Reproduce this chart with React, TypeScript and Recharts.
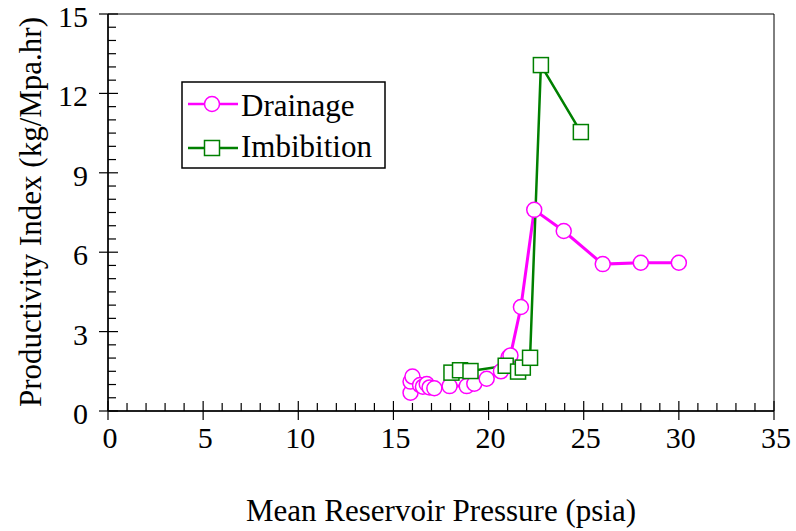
import React from 'react';
import {
  LineChart,
  Line,
  XAxis,
  YAxis,
  ReferenceArea,
  Label,
} from 'recharts';

// values
const drainagePressure = [
  15.9, 15.9, 16.0, 16.4, 16.55, 16.75, 16.9, 17.15, 17.95, 18.85, 19.25,
  19.9, 20.65, 21.05, 21.15, 21.7, 22.4, 23.95, 26.0, 28.0, 30.0,
];
const drainageIndex = [
  0.69, 1.11, 1.3, 0.98, 0.92, 1.02, 0.89, 0.86, 0.94, 0.94, 1.03,
  1.22, 1.5, 2.03, 2.1, 3.93, 7.6, 6.8, 5.55, 5.6, 5.6,
];
const imbibitionPressure = [18.05, 18.5, 19.05, 20.9, 21.55, 21.8, 22.18, 22.75, 24.85];
const imbibitionIndex = [1.45, 1.54, 1.51, 1.71, 1.49, 1.64, 2.01, 13.07, 10.54];

const xMajorTicks = [0, 5, 10, 15, 20, 25, 30, 35];
const yMajorTicks = [0, 3, 6, 9, 12, 15];
const xMinorStep = 1;
const yMinorStep = 0.5;

const xTicks = Array.from({ length: 35 / xMinorStep + 1 }, (_, i) => i * xMinorStep);
const yTicks = Array.from({ length: 15 / yMinorStep + 1 }, (_, i) => i * yMinorStep);

const drainage = drainagePressure.map((p, i) => ({ p, v: drainageIndex[i] }));
const imbibition = imbibitionPressure.map((p, i) => ({ p, v: imbibitionIndex[i] }));

const FONT = "'Liberation Serif', 'Times New Roman', Times, serif";
const textStyle = { fontFamily: FONT, fontSize: 30, fill: '#000' };
const titleStyle = { ...textStyle, fontSize: 31 };
const MAGENTA = '#FF00FF';
const GREEN = '#008000';

const XTick = (props: any) => {
  const { x, y, payload } = props;
  const major = xMajorTicks.includes(payload.value);
  return (
    <g>
      <line x1={x} x2={x} y1={y - (major ? 10 : 8)} y2={y + (major ? 9 : 0)} stroke="#000" strokeWidth={1.2} />
      {major && (
        <text x={x + 2} y={y + 37} textAnchor="middle" style={textStyle}>
          {payload.value}
        </text>
      )}
    </g>
  );
};

const YTick = (props: any) => {
  const { x, y, payload } = props;
  const major = yMajorTicks.includes(payload.value);
  return (
    <g>
      <line x1={x - (major ? 9 : 0)} x2={x + (major ? 10 : 8)} y1={y} y2={y} stroke="#000" strokeWidth={1.2} />
      {major && (
        <text x={x - 20} y={y + 13} textAnchor="end" style={textStyle}>
          {payload.value}
        </text>
      )}
    </g>
  );
};

const CircleDot = (props: any) => {
  const { cx, cy, index } = props;
  return <circle key={`c-${index}`} cx={cx} cy={cy} r={7.5} fill="#fff" stroke={MAGENTA} strokeWidth={1.5} />;
};

const SquareDot = (props: any) => {
  const { cx, cy, index } = props;
  return (
    <rect key={`s-${index}`} x={cx - 7.5} y={cy - 7.5} width={15} height={15} fill="#fff" stroke={GREEN} strokeWidth={1.5} />
  );
};

function LegendBox() {
  return (
    <svg width={206} height={88} style={{ position: 'absolute', left: 181, top: 81 }}>
      <rect x={1} y={1} width={203} height={86} fill="#fff" stroke="#000" strokeWidth={1.5} />
      <line x1={7} x2={57} y1={23} y2={23} stroke={MAGENTA} strokeWidth={2.5} />
      <circle cx={31} cy={23} r={7.5} fill="#fff" stroke={MAGENTA} strokeWidth={1.5} />
      <text x={60} y={35} style={titleStyle}>Drainage</text>
      <line x1={7} x2={57} y1={67} y2={67} stroke={GREEN} strokeWidth={2.5} />
      <rect x={23.5} y={59.5} width={15} height={15} fill="#fff" stroke={GREEN} strokeWidth={1.5} />
      <text x={60} y={76} style={titleStyle}>Imbibition</text>
    </svg>
  );
}

export default function App() {
  return (
    <div style={{ position: 'absolute', left: 0, top: 0, width: 796, height: 531 }}>
      <LineChart width={796} height={531} margin={{ top: 14, right: 22, bottom: 0, left: 0 }}>
        <ReferenceArea x1={0} x2={35} y1={0} y2={15} fill="none" stroke="#000" strokeWidth={1} />
        <XAxis
          dataKey="p"
          type="number"
          domain={[0, 35]}
          ticks={xTicks}
          interval={0}
          tickSize={0}
          tickMargin={0}
          tickLine={false}
          tick={<XTick />}
          height={120}
          axisLine={{ stroke: '#000', strokeWidth: 1.5 }}
          allowDataOverflow
        >
          <Label
            content={() => (
              <text x={441} y={521} textAnchor="middle" style={titleStyle}>
                Mean Reservoir Pressure (psia)
              </text>
            )}
          />
        </XAxis>
        <YAxis
          type="number"
          domain={[0, 15]}
          ticks={yTicks}
          interval={0}
          tickSize={0}
          tickMargin={0}
          tickLine={false}
          tick={<YTick />}
          width={108}
          axisLine={{ stroke: '#000', strokeWidth: 1.5 }}
          allowDataOverflow
        >
          <Label
            content={() => (
              <text
                x={30}
                y={212}
                transform="rotate(-90 30 212)"
                textAnchor="middle"
                dominantBaseline="central"
                style={titleStyle}
              >
                Productivity Index (kg/Mpa.hr)
              </text>
            )}
          />
        </YAxis>
        <Line
          data={drainage}
          dataKey="v"
          type="linear"
          stroke={MAGENTA}
          strokeWidth={3}
          dot={<CircleDot />}
          isAnimationActive={false}
        />
        <Line
          data={imbibition}
          dataKey="v"
          type="linear"
          stroke={GREEN}
          strokeWidth={2.5}
          dot={<SquareDot />}
          isAnimationActive={false}
        />
      </LineChart>
      <LegendBox />
    </div>
  );
}
